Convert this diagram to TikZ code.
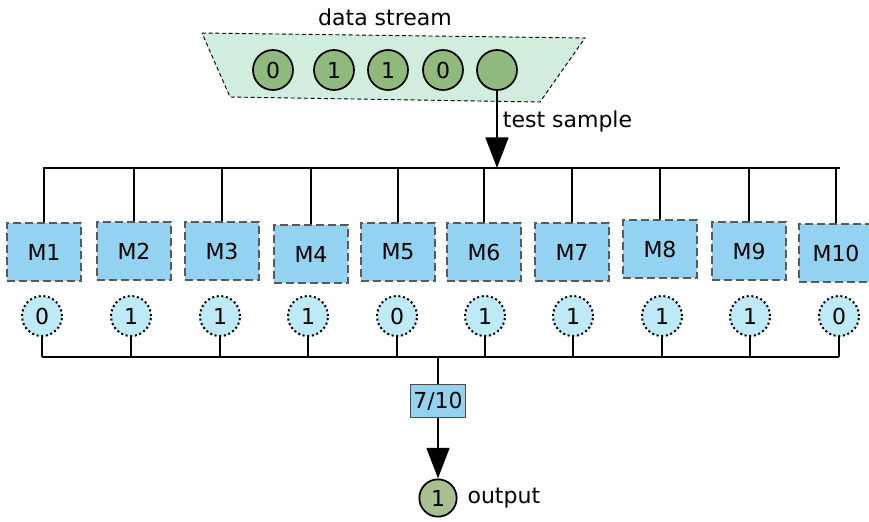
\documentclass[tikz,border=0pt]{standalone}
\usepackage{fontspec}
\setmainfont{DejaVu Sans}
\usetikzlibrary{arrows.meta,positioning}
\definecolor{streamfill}{RGB}{209,237,221}
\definecolor{samplefill}{RGB}{143,185,125}
\definecolor{modelfill}{RGB}{147,210,240}
\definecolor{votefill}{RGB}{190,233,246}
\definecolor{outfill}{RGB}{168,192,144}
\tikzstyle{s} = [circle, draw=black, fill=samplefill, line width=1.3pt, inner sep=0pt, minimum size=30pt]
\tikzstyle{m} = [rectangle, draw=black!65, fill=modelfill, line width=1.4pt, dash pattern=on 6pt off 3pt, inner sep=0pt, minimum width=56pt, minimum height=43pt]
\tikzstyle{v} = [circle, draw=black, fill=votefill, line width=1.5pt, dash pattern=on 1.5pt off 2pt, inner sep=0pt, minimum size=30pt]
\tikzstyle{l} = [black, line width=1.3pt]
\tikzstyle{a} = [black, line width=2.2pt, -{Triangle[length=23pt,width=17pt]}]

\begin{document}
\begin{tikzpicture}[x=0.75pt, y=-0.75pt, font=\fontsize{16.5}{20}\selectfont]
		\useasboundingbox (0,0) rectangle (869,522);

		% data stream
		\node (title) at (385,17) {data stream};
		\draw[fill=streamfill, line width=0.7pt, dash pattern=on 3pt off 2pt] (202,33) -- (585,38) -- (540,102) -- (230,97) -- cycle;
		\node[s] (s1) at (273,70) {0};
		\node[s] (s2) at (334,70) {1};
		\node[s] (s3) at (388,70) {1};
		\node[s] (s4) at (443,70) {0};
		\node[s] (s5) at (497,70) {};

		% split to the models
		\coordinate (split) at (497,168);
		\coordinate (splitL) at (43,168);
		\coordinate (splitR) at (840,168);
		\draw[l] (splitL) -- (splitR);
		\draw[a] (s5.south) -- (split) node[pos=0.4, right, black] {test sample};

		% models and their votes
		\coordinate (joinL) at (42,357);
		\coordinate (joinR) at (839,357);
		\foreach \i/\x/\y/\vx/\vote in {1/44/252/42/0, 2/134/251/131/1, 3/222/251/220/1, 4/311/254/308/1, 5/398/252/397/0,
				6/484/252/485/1, 7/572/252/573/1, 8/660/249/662/1, 9/749/251/750/1, 10/836/253/839/0}
			{
				\node[m] (m\i) at (\x,\y) {};
				\node at (m\i) {M\i};
				\node[v] (v\i) at (\vx,316) {\vote};
				\draw[l] (m\i.north) -- (m\i.north |- split);
				\draw[l] (v\i.south) -- (v\i.south |- joinL);
			}
		\draw[l] (joinL) -- (joinR);

		% majority vote
		\node[rectangle, draw=black!70, fill=modelfill, line width=0.9pt, inner sep=0pt, minimum width=41pt, minimum height=25pt] (vote) at (438,401) {7/10};
		\draw[l] (vote.north) -- (vote.north |- joinL);
		\node[circle, draw=black, fill=outfill, line width=1.3pt, inner sep=0pt, minimum size=28pt] (out) at (438,498) {1};
		\node[right=4pt of out] (outlabel) {output};
		\draw[a] (vote.south) -- (out.north);
	\end{tikzpicture}
\end{document}
